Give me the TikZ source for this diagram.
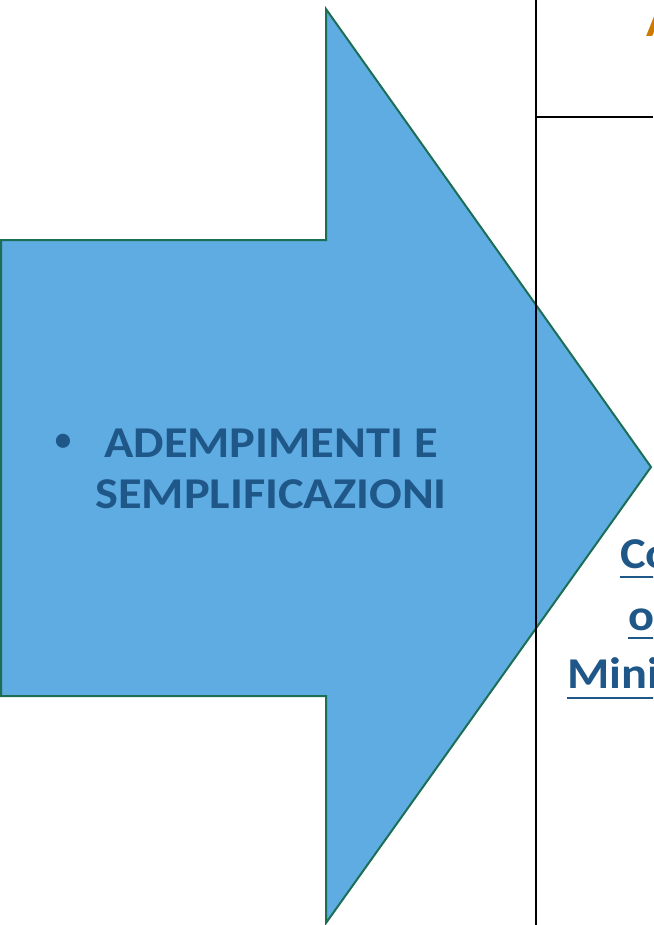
\documentclass[tikz,border=0pt]{standalone}
\usepackage{fontspec}
\setmainfont{Carlito}
\usetikzlibrary{positioning, calc}
\definecolor{arrowblue}{RGB}{94,172,226}
\definecolor{arrowedge}{RGB}{28,110,85}
\definecolor{textblue}{RGB}{31,87,136}
\definecolor{titleorange}{RGB}{204,122,0}
\newcommand{\wide}[1]{\scalebox{1.1}[1]{#1}}

\begin{document}
\begin{tikzpicture}[x=1pt, y=-1pt, inner sep=0pt,
        bigtext/.style={font=\bfseries\fontsize{44}{51}\selectfont, text=textblue},
        gridline/.style={line width=2pt, black},
        ul/.style={line width=2pt, textblue}]
        \useasboundingbox (0,0) rectangle (653,925);
        \clip (0,0) rectangle (653,925);

        % big arrow
        \draw[fill=arrowblue, draw=arrowedge, line width=2pt]
        (1,240) -- (326,240) -- (326,9) -- (651,467) -- (326,923) -- (326,696) -- (1,696) -- cycle;

        \node[text=textblue, font=\fontsize{40}{42}\selectfont, anchor=base] (bullet) at (63,452) {•};
        \node[bigtext, align=center, anchor=base] (topic) at (271,508) {\wide{ADEMPIMENTI E}\\\wide{SEMPLIFICAZIONI}};

        % table lines
        \coordinate (vtop) at (536,0);
        \coordinate (vbot) at (536,925);
        \coordinate (hleft) at (536,117);
        \coordinate (hright) at (653,117);
        \draw[gridline] (vtop) -- (vbot);
        \draw[gridline] (hleft) -- (hright);

        \node[bigtext, text=titleorange, anchor=base west] (head) at (646,37) {\wide{A}};

        \node[bigtext, anchor=base west] (co) at (620,568) {\wide{Co}};
        \node[bigtext, anchor=base west] (o) at (628,630) {\wide{o}};
        \node[bigtext, anchor=base west] (mini) at (567,688) {\wide{Mini}};
        \draw[ul] ($(co.base west)+(0,9)$) -- ($(co.base east)+(0,9)$);
        \draw[ul] ($(o.base west)+(0,8)$) -- ($(o.base east)+(0,8)$);
        \draw[ul] ($(mini.base west)+(0,10)$) -- ($(mini.base east)+(0,10)$);
    \end{tikzpicture}
\end{document}
